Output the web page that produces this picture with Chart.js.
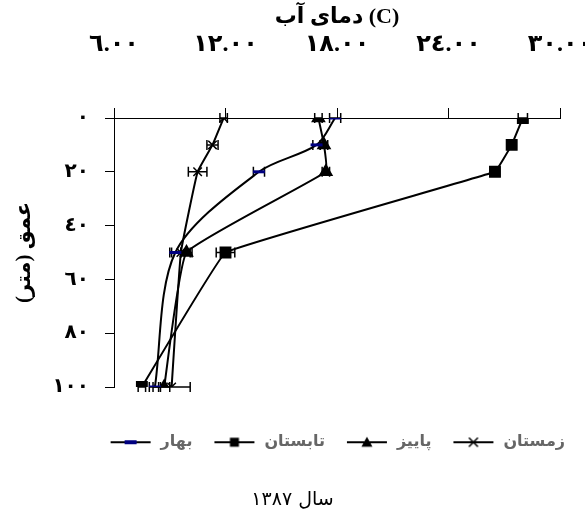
<!DOCTYPE html>
<html>
<head>
<meta charset="utf-8">
<script src="https://cdn.jsdelivr.net/npm/chart.js@4/dist/chart.umd.min.js"></script>
<style>
  html, body { margin: 0; padding: 0; background: #fff; }
  #wrap { width: 585px; height: 528px; }
</style>
</head>
<body>
<div id="wrap"><canvas id="tempChart" width="585" height="528"></canvas></div>
<script>
// depth (m) and water temperature (C) per season, year 1387
const depths = [0, 10, 20, 50, 100];
const springTemp = [17.9, 16.9, 13.8, 9.3, 8.2];
const summerTemp = [28.0, 27.4, 26.5, 12.0, 7.5];
const autumnTemp = [17.0, 17.3, 17.4, 9.9, 8.7];
const winterTemp = [11.9, 11.3, 10.5, 9.6, 9.1];

// horizontal error bars (+/- C)
const springErr = [0.3, 0.2, 0.3, 0.3, 0.3];
const summerErr = [0.25, 0.25, 0.25, 0.5, 0.2];
const autumnErr = [0.2, 0.2, 0.2, 0.3, 0.3];
const winterErr = [0.2, 0.3, 0.5, 0.5, 1.0];

const seasonNames = ['بهار', 'تابستان', 'پاییز', 'زمستان'];

const FONT = "'Liberation Serif', 'DejaVu Sans', serif";
const toArabic = s => String(s).replace(/\d/g, d => '٠١٢٣٤٥٦٧٨٩'[d]);
const toPoints = temps => temps.map((t, i) => ({ x: t, y: depths[i] }));

// legend icon: line with marker in the middle
function legendIcon(kind) {
    const c = document.createElement('canvas');
    c.width = 44; c.height = 14;
    const g = c.getContext('2d');
    g.strokeStyle = '#000'; g.lineWidth = 2;
    g.beginPath(); g.moveTo(2, 7); g.lineTo(42, 7); g.stroke();
    g.fillStyle = '#000';
    if (kind === 'dash') {
        g.fillStyle = '#000080'; g.fillRect(16, 5, 12, 4);
    } else if (kind === 'rect') {
        g.fillRect(17.5, 2.5, 9, 9);
    } else if (kind === 'triangle') {
        g.beginPath(); g.moveTo(22, 1.5); g.lineTo(27.5, 11.5); g.lineTo(16.5, 11.5); g.closePath(); g.fill();
    } else {
        g.lineWidth = 1.5;
        g.beginPath(); g.moveTo(17.5, 2.5); g.lineTo(26.5, 11.5); g.moveTo(26.5, 2.5); g.lineTo(17.5, 11.5); g.stroke();
    }
    return c;
}

const errorBars = {
    id: 'errorBars',
    beforeDatasetsDraw(chart) {
        const ctx = chart.ctx;
        const xs = chart.scales.x;
        ctx.save();
        ctx.strokeStyle = '#000';
        ctx.lineWidth = 1.5;
        chart.data.datasets.forEach((ds, i) => {
            const meta = chart.getDatasetMeta(i);
            meta.data.forEach((pt, j) => {
                const e = ds.errors[j];
                const x0 = xs.getPixelForValue(ds.data[j].x - e);
                const x1 = xs.getPixelForValue(ds.data[j].x + e);
                const y = pt.y;
                ctx.beginPath();
                ctx.moveTo(x0, y); ctx.lineTo(x1, y);
                ctx.moveTo(x0, y - 5); ctx.lineTo(x0, y + 5);
                ctx.moveTo(x1, y - 5); ctx.lineTo(x1, y + 5);
                ctx.stroke();
            });
        });
        ctx.restore();
    }
};

const base = {
    showLine: true,
    borderColor: '#000',
    borderWidth: 2,
    pointBorderColor: '#000',
    pointBackgroundColor: '#000'
};

new Chart(document.getElementById('tempChart'), {
    type: 'scatter',
    data: {
        datasets: [
            { ...base, label: seasonNames[0], data: toPoints(springTemp), errors: springErr, tension: 0.3,
              pointStyle: 'line', pointRadius: 6, pointBorderColor: '#000080', pointBorderWidth: 3,
              legendIcon: legendIcon('dash') },
            { ...base, label: seasonNames[1], data: toPoints(summerTemp), errors: summerErr, tension: 0.05,
              pointStyle: 'rect', pointRadius: 7, legendIcon: legendIcon('rect') },
            { ...base, label: seasonNames[2], data: toPoints(autumnTemp), errors: autumnErr, tension: 0.1,
              pointStyle: 'triangle', pointRadius: 6.5, legendIcon: legendIcon('triangle') },
            { ...base, label: seasonNames[3], data: toPoints(winterTemp), errors: winterErr, tension: 0.1,
              pointStyle: 'crossRot', pointRadius: 6, pointBorderWidth: 1.5, legendIcon: legendIcon('cross') }
        ]
    },
    options: {
        responsive: false,
        animation: false,
        layout: { padding: { top: 4, right: 0, bottom: 17, left: 0 } },
        scales: {
            x: {
                type: 'linear',
                position: 'top',
                min: 6, max: 30,
                border: { color: '#000', width: 1 },
                grid: { drawOnChartArea: false, drawTicks: true, tickLength: 10, color: '#000' },
                ticks: {
                    stepSize: 6, padding: 49, color: '#000', maxRotation: 0,
                    font: { family: FONT, size: 24, weight: 'bold' },
                    callback: v => toArabic(v.toFixed(2))
                },
                title: {
                    display: true, text: 'دمای آب (C)', color: '#000',
                    font: { family: FONT, size: 22, weight: 'bold' },
                    padding: { top: 0, bottom: 0 }
                },
                afterFit: s => { s.height = 114; s.paddingRight = 25; s.paddingLeft = 0; }
            },
            y: {
                type: 'linear',
                reverse: true,
                min: 0, max: 100,
                border: { color: '#000', width: 1 },
                grid: { drawOnChartArea: false, drawTicks: true, tickLength: 9, color: '#000' },
                ticks: {
                    stepSize: 20, padding: 16, color: '#000',
                    font: { family: FONT, size: 20, weight: 'bold' },
                    callback: v => toArabic(v)
                },
                title: {
                    display: true, text: 'عمق (متر)', color: '#000',
                    font: { family: FONT, size: 21, weight: 'bold' },
                    padding: { top: 12, bottom: 0 }
                },
                afterFit: s => { s.width = 114; }
            }
        },
        plugins: {
            legend: {
                position: 'bottom',
                align: 'end',
                title: { display: true, text: '', font: { size: 1 }, padding: { top: 26, bottom: 0 } },
                labels: {
                    color: '#000',
                    font: { family: FONT, size: 16, weight: 'bold' },
                    usePointStyle: true,
                    pointStyleWidth: 44,
                    padding: 20,
                    generateLabels: chart => chart.data.datasets.map((ds, i) => ({
                        text: ds.label,
                        pointStyle: ds.legendIcon,
                        fillStyle: '#000',
                        strokeStyle: '#000',
                        lineWidth: 0,
                        hidden: false,
                        datasetIndex: i
                    }))
                }
            },
            title: {
                display: true,
                position: 'bottom',
                text: 'سال ١٣٨٧',
                color: '#000',
                font: { family: "'DejaVu Sans', sans-serif", size: 19, weight: 'normal' },
                padding: { top: 28, bottom: 0 }
            },
            tooltip: { enabled: false }
        }
    },
    plugins: [errorBars]
});
</script>
</body>
</html>
